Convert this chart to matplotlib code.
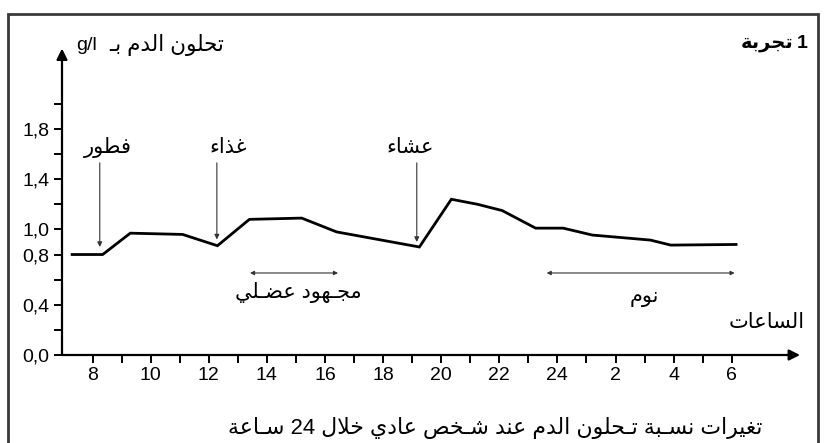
import matplotlib
matplotlib.use('Agg')
import matplotlib.pyplot as plt
from matplotlib.patches import Rectangle

plt.rcParams['font.family'] = ['Liberation Sans', 'DejaVu Sans']

# glycemia over 24h (hour 25 = 1h next day, etc.)
hours = [7.3, 8.35, 9.3, 11.1, 12.3, 13.4, 15.2, 16.4, 19.25, 20.35,
         21.25, 22.1, 23.25, 24.2, 25.2, 27.2, 27.9, 30.15]
glucose = [0.80, 0.80, 0.97, 0.96, 0.87, 1.08, 1.09, 0.98, 0.86, 1.24,
           1.20, 1.15, 1.01, 1.01, 0.955, 0.915, 0.875, 0.88]

xticks = list(range(8, 31, 2))
xlabels = [str(h if h <= 24 else h - 24) for h in xticks]
yticks_major = [0.0, 0.4, 0.8, 1.0, 1.4, 1.8]
yticks_all = [0.0, 0.2, 0.4, 0.6, 0.8, 1.0, 1.2, 1.4, 1.6, 1.8, 2.0]

meals = ['فطور', 'غذاء', 'عشاء']
meal_hours = [8.25, 12.28, 19.16]
meal_tips = [0.86, 0.92, 0.90]

effort = (13.42, 16.45)
sleep = (23.63, 30.1)

# arabic shaping by hand (matplotlib does not shape / reorder)
FORMS = {
    'ا': (0xFE8D, 0xFE8E, None, None), 'ب': (0xFE8F, 0xFE90, 0xFE91, 0xFE92),
    'ة': (0xFE93, 0xFE94, None, None), 'ت': (0xFE95, 0xFE96, 0xFE97, 0xFE98),
    'ج': (0xFE9D, 0xFE9E, 0xFE9F, 0xFEA0), 'ح': (0xFEA1, 0xFEA2, 0xFEA3, 0xFEA4),
    'خ': (0xFEA5, 0xFEA6, 0xFEA7, 0xFEA8), 'د': (0xFEA9, 0xFEAA, None, None),
    'ذ': (0xFEAB, 0xFEAC, None, None), 'ر': (0xFEAD, 0xFEAE, None, None),
    'س': (0xFEB1, 0xFEB2, 0xFEB3, 0xFEB4), 'ش': (0xFEB5, 0xFEB6, 0xFEB7, 0xFEB8),
    'ص': (0xFEB9, 0xFEBA, 0xFEBB, 0xFEBC), 'ض': (0xFEBD, 0xFEBE, 0xFEBF, 0xFEC0),
    'ط': (0xFEC1, 0xFEC2, 0xFEC3, 0xFEC4), 'ع': (0xFEC9, 0xFECA, 0xFECB, 0xFECC),
    'غ': (0xFECD, 0xFECE, 0xFECF, 0xFED0), 'ف': (0xFED1, 0xFED2, 0xFED3, 0xFED4),
    'ل': (0xFEDD, 0xFEDE, 0xFEDF, 0xFEE0), 'م': (0xFEE1, 0xFEE2, 0xFEE3, 0xFEE4),
    'ن': (0xFEE5, 0xFEE6, 0xFEE7, 0xFEE8), 'ه': (0xFEE9, 0xFEEA, 0xFEEB, 0xFEEC),
    'و': (0xFEED, 0xFEEE, None, None), 'ي': (0xFEF1, 0xFEF2, 0xFEF3, 0xFEF4),
    'ء': (0xFE80, None, None, None), 'ـ': (0x640, 0x640, 0x640, 0x640),
}


def ar(text):
    out = []
    prev_left = False
    i = 0
    while i < len(text):
        c = text[i]
        if c not in FORMS:
            out.append(c)
            prev_left = False
            i += 1
            continue
        iso, fin, ini, med = FORMS[c]
        joins_prev = prev_left and fin is not None
        if c == 'ل' and i + 1 < len(text) and text[i + 1] == 'ا':
            out.append(chr(0xFEFC if joins_prev else 0xFEFB))
            prev_left = False
            i += 2
            continue
        nxt = text[i + 1] if i + 1 < len(text) else ''
        joins_next = ini is not None and nxt in FORMS and FORMS[nxt][1] is not None
        if joins_prev and joins_next:
            out.append(chr(med))
        elif joins_prev:
            out.append(chr(fin))
        elif joins_next:
            out.append(chr(ini))
        else:
            out.append(chr(iso))
        prev_left = joins_next
        i += 1
    return ''.join(reversed(out))


fs = 15
fig = plt.figure(figsize=(8.25, 4.43), dpi=100)
ax = fig.add_axes([62 / 825, 88 / 443, 745 / 825, 315 / 443])
ax.set_xlim(6.95, 32.59)
ax.set_ylim(0, 2.508)
for s in ax.spines.values():
    s.set_visible(False)

ax.plot(hours, glucose, color='black', lw=2.0, solid_joinstyle='miter')

# axes with arrows
ax.annotate('', xy=(32.35, 0), xytext=(6.95, 0), annotation_clip=False,
            arrowprops=dict(arrowstyle='-|>', lw=1.6, color='black',
                            mutation_scale=16, shrinkA=0, shrinkB=0))
ax.annotate('', xy=(6.95, 2.44), xytext=(6.95, 0), annotation_clip=False,
            arrowprops=dict(arrowstyle='-|>', lw=1.6, color='black',
                            mutation_scale=16, shrinkA=0, shrinkB=0))

ax.set_xticks(xticks)
ax.set_xticklabels(xlabels)
ax.set_xticks(range(8, 31), minor=True)
ax.set_yticks(yticks_all)
ax.set_yticklabels([('%.1f' % v).replace('.', ',') if v in yticks_major else ''
                    for v in yticks_all])
ax.tick_params(axis='both', which='both', length=6, width=1.4, labelsize=14,
               pad=3, color='black')

# meals
for name, h, tip in zip(meals, meal_hours, meal_tips):
    ax.annotate('', xy=(h, tip), xytext=(h, 1.53),
                arrowprops=dict(arrowstyle='-|>', lw=0.8, color='#333333',
                                mutation_scale=7, shrinkA=0, shrinkB=0))
ax.text(8.53, 1.656, ar(meals[0]), ha='center', va='center', fontsize=fs)
ax.text(12.66, 1.656, ar(meals[1]), ha='center', va='center', fontsize=fs)
ax.text(18.93, 1.656, ar(meals[2]), ha='center', va='center', fontsize=fs)

# effort and sleep periods
for a, b in (effort, sleep):
    ax.annotate('', xy=(b, 0.653), xytext=(a, 0.653),
                arrowprops=dict(arrowstyle='<|-|>', lw=0.8, color='#333333',
                                mutation_scale=6, shrinkA=0, shrinkB=0))
ax.text(15.1, 0.494, ar('مجـهود عضـلي'), ha='center', va='center', fontsize=fs)
ax.text(26.98, 0.46, ar('نوم'), ha='center', va='center', fontsize=fs)

ax.text(31.21, 0.255, ar('الساعات'), ha='center', va='center', fontsize=fs)

# y label, title, caption
fig.text(76 / 825, 1 - 46 / 443, 'g/l', ha='left', va='center', fontsize=14)
fig.text(109 / 825, 1 - 45 / 443, ar('تحلون الدم بـ'),
         ha='left', va='center', fontsize=15.5)
fig.text(808 / 825, 1 - 44 / 443, '1', ha='right', va='center',
         fontsize=14, fontweight='bold')
fig.text(794 / 825, 1 - 44 / 443, ar('تجربة'), ha='right', va='center',
         fontsize=14, fontweight='bold')
fig.text(495 / 825, 1 - 428 / 443,
         ar('سـاعة') + ' 24 ' + ar('تغيرات نسـبة تـحلون الدم عند شـخص عادي خلال'),
         ha='center', va='center', fontsize=15.8)

fig.patches.append(Rectangle((8 / 825, -0.05), 810 / 825, 0.968 + 0.05,
                             transform=fig.transFigure, fill=False,
                             lw=2, edgecolor='#3a3a3a'))

fig.savefig('out.png', dpi=100)
